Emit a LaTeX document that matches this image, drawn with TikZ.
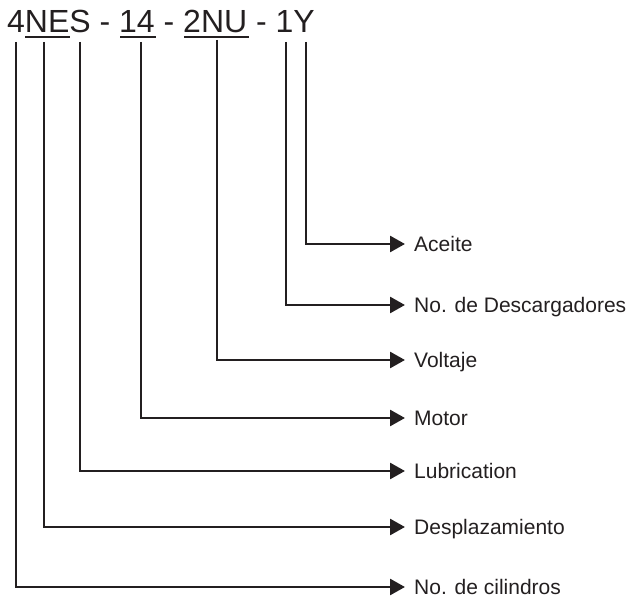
\documentclass[tikz,border=0pt]{standalone}
\usepackage{fontspec}
\setmainfont{Liberation Sans}
\usetikzlibrary{arrows.meta}
\definecolor{ink}{HTML}{231F20}
\begin{document}
\begin{tikzpicture}[x=1pt,y=-1pt,
  link/.style={draw=ink,line width=2.7pt,-{Triangle[length=15pt,width=16pt]}},
  lbl/.style={anchor=west,inner xsep=9pt,inner ysep=0pt,text=ink,
    font=\fontsize{21}{25}\selectfont,text height=15pt,text depth=0pt},
  bar/.style={draw=ink,line width=2pt}]
\useasboundingbox (0,0) rectangle (630,596);

% model code
\node[anchor=base west,inner sep=0pt,text=ink,font=\fontsize{32}{38}\selectfont]
  (code) at (7,33) {4NES - 14 - 2NU - 1Y};
\draw[bar] (25,37) -- (70,37);
\draw[bar] (120,37) -- (156,37);
\draw[bar] (184,37) -- (249,37);

% tops of the leader lines
\coordinate (t1) at (16,42);
\coordinate (t2) at (44,42);
\coordinate (t3) at (80,42);
\coordinate (t4) at (141,42);
\coordinate (t5) at (217,40);
\coordinate (t6) at (286,42);
\coordinate (t7) at (306,42);

% field names
\node[lbl] (ace)  at (405,244) {Aceite};
\node[lbl] (desc) at (405,305) {No. de Descargadores};
\node[lbl] (volt) at (405,360) {Voltaje};
\node[lbl] (mot)  at (405,418) {Motor};
\node[lbl] (lub)  at (405,471) {Lubrication};
\node[lbl] (desp) at (405,527) {Desplazamiento};
\node[lbl] (cil)  at (405,587) {No. de cilindros};

% leaders
\draw[link] (t7) |- (ace.west);
\draw[link] (t6) |- (desc.west);
\draw[link] (t5) |- (volt.west);
\draw[link] (t4) |- (mot.west);
\draw[link] (t3) |- (lub.west);
\draw[link] (t2) |- (desp.west);
\draw[link] (t1) |- (cil.west);
\end{tikzpicture}
\end{document}
